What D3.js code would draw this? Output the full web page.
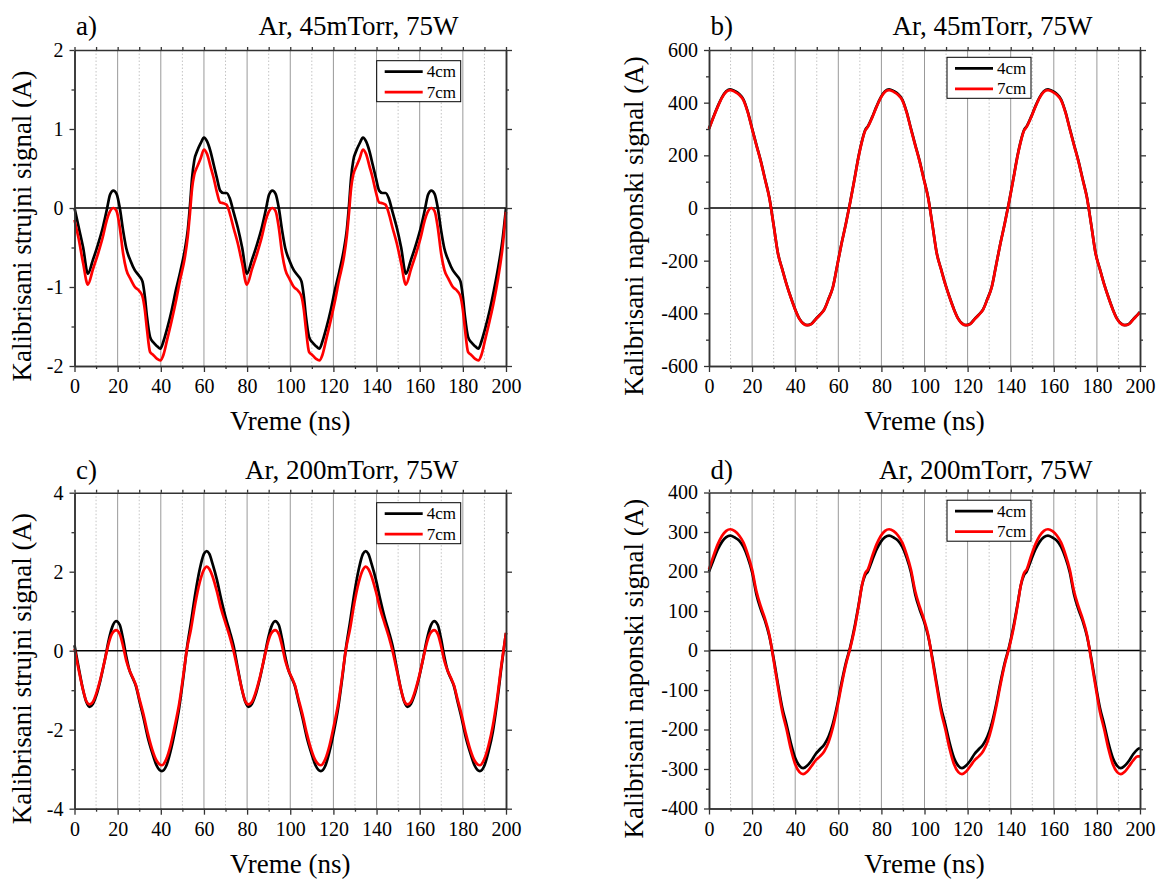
<!DOCTYPE html>
<html>
<head>
<meta charset="utf-8">
<script src="https://cdn.jsdelivr.net/npm/d3@7"></script>
<style>
  html, body { margin: 0; padding: 0; background: #fff; }
  svg { display: block; }
  text { font-family: "Liberation Serif", "Times New Roman", Tinos, serif; fill: #000; }
</style>
</head>
<body>
<svg id="chart" width="1157" height="879"></svg>
<script>
// ---------------- DATA ----------------
const xTicks = [0, 20, 40, 60, 80, 100, 120, 140, 160, 180, 200];
const xMinorTicks = [10, 30, 50, 70, 90, 110, 130, 150, 170, 190];
const seriesNames = ["4cm", "7cm"];

// Panel a) current, 45 mTorr
const timeA = [0, 2, 4, 6.2, 8.5, 11, 13, 15, 16.5, 18, 19.5, 21, 22.5, 24, 26, 28, 30, 31.5, 32.6, 33.6, 35, 36.5, 38.3, 39.8, 41.2, 43, 45, 47, 49, 51, 52.5, 53.5, 54.5, 55.5, 57, 58.5, 60, 61.5, 63, 64.5, 66, 67.5, 69, 70.5, 72,
  73.7, 75.7, 77.7, 79.9, 82.2, 84.7, 86.7, 88.7, 90.2, 91.7, 93.2, 94.7, 96.2, 97.7, 99.7, 101.7, 103.7, 105.2, 106.3, 107.3, 108.7, 110.2, 112, 113.5, 114.9, 116.7, 118.7, 120.7, 122.7, 124.7, 126.2, 127.2, 128.2, 129.2, 130.7, 132.2, 133.7, 135.2, 136.7, 138.2, 139.7, 141.2, 142.7, 144.2, 145.7,
  147.4, 149.4, 151.4, 153.6, 155.9, 158.4, 160.4, 162.4, 163.9, 165.4, 166.9, 168.4, 169.9, 171.4, 173.4, 175.4, 177.4, 178.9, 180, 181, 182.4, 183.9, 185.7, 187.2, 188.6, 190.4, 192.4, 194.4, 196.4, 198.4, 200];
const a4cm = [0, -0.25, -0.5, -0.83, -0.66, -0.45, -0.26, -0.02, 0.17, 0.22, 0.18, 0.0, -0.28, -0.51, -0.67, -0.79, -0.86, -0.93, -1.12, -1.38, -1.63, -1.70, -1.75, -1.78, -1.69, -1.52, -1.30, -1.04, -0.81, -0.55, -0.28, 0.02, 0.38, 0.6, 0.73, 0.82, 0.89, 0.84, 0.72, 0.55, 0.38, 0.22, 0.19, 0.19, 0.12,
  -0.05, -0.25, -0.5, -0.83, -0.66, -0.45, -0.26, -0.02, 0.17, 0.22, 0.18, 0.0, -0.28, -0.51, -0.67, -0.79, -0.86, -0.93, -1.12, -1.38, -1.63, -1.70, -1.75, -1.78, -1.69, -1.52, -1.30, -1.04, -0.81, -0.55, -0.28, 0.02, 0.38, 0.6, 0.73, 0.82, 0.89, 0.84, 0.72, 0.55, 0.38, 0.22, 0.19, 0.19, 0.12,
  -0.05, -0.25, -0.5, -0.83, -0.66, -0.45, -0.26, -0.02, 0.17, 0.22, 0.18, 0.0, -0.28, -0.51, -0.67, -0.79, -0.86, -0.93, -1.12, -1.38, -1.63, -1.70, -1.75, -1.78, -1.69, -1.52, -1.30, -1.04, -0.75, -0.4, 0.0];
const a7cm = [-0.15, -0.4, -0.7, -0.97, -0.78, -0.57, -0.38, -0.15, -0.04, 0.0, -0.04, -0.25, -0.57, -0.78, -0.9, -1.0, -1.05, -1.12, -1.29, -1.54, -1.82, -1.86, -1.91, -1.93, -1.86, -1.66, -1.43, -1.18, -0.9, -0.65, -0.36, -0.07, 0.25, 0.42, 0.53, 0.63, 0.74, 0.68, 0.53, 0.38, 0.2, 0.07, 0.06, 0.04, -0.07,
  -0.25, -0.45, -0.7, -0.97, -0.78, -0.57, -0.38, -0.15, -0.04, 0.0, -0.04, -0.25, -0.57, -0.78, -0.9, -1.0, -1.05, -1.12, -1.29, -1.54, -1.82, -1.86, -1.91, -1.93, -1.86, -1.66, -1.43, -1.18, -0.9, -0.65, -0.36, -0.07, 0.25, 0.42, 0.53, 0.63, 0.74, 0.68, 0.53, 0.38, 0.2, 0.07, 0.06, 0.04, -0.07,
  -0.25, -0.45, -0.7, -0.97, -0.78, -0.57, -0.38, -0.15, -0.04, 0.0, -0.04, -0.25, -0.57, -0.78, -0.9, -1.0, -1.05, -1.12, -1.29, -1.54, -1.82, -1.86, -1.91, -1.93, -1.86, -1.66, -1.43, -1.18, -0.88, -0.5, -0.05];
const aYTicks = [-2, -1, 0, 1, 2];
const aYMinor = [-1.5, -0.5, 0.5, 1.5];

// Panels b) and d) voltage share a time base
const timeBD = [0, 2, 4, 6, 8, 9.9, 12, 14, 16, 18, 20, 22, 24, 26, 28, 30, 32, 34, 36, 38, 40, 42, 43.7, 45.5, 47.5, 49.5, 51.5, 53.5, 55.5, 57.5, 59.5, 61.5, 63.5, 65.5, 67.5, 69.5, 71, 72.5,
  73.7, 75.7, 77.7, 79.7, 81.7, 83.6, 85.7, 87.7, 89.7, 91.7, 93.7, 95.7, 97.7, 99.7, 101.7, 103.7, 105.7, 107.7, 109.7, 111.7, 113.7, 115.7, 117.4, 119.2, 121.2, 123.2, 125.2, 127.2, 129.2, 131.2, 133.2, 135.2, 137.2, 139.2, 141.2, 143.2, 144.7, 146.2,
  147.4, 149.4, 151.4, 153.4, 155.4, 157.3, 159.4, 161.4, 163.4, 165.4, 167.4, 169.4, 171.4, 173.4, 175.4, 177.4, 179.4, 181.4, 183.4, 185.4, 187.4, 189.4, 191.1, 192.9, 194.9, 196.9, 198.9, 200];
const b4cm = [302, 345, 385, 420, 443, 451, 444, 433, 412, 365, 302, 240, 180, 110, 40, -65, -172, -232, -290, -340, -385, -421, -438, -445, -440, -422, -405, -385, -345, -300, -218, -135, -60, 22, 110, 200, 255, 296,
  310, 345, 385, 420, 443, 451, 444, 433, 412, 365, 302, 240, 180, 110, 40, -65, -172, -232, -290, -340, -385, -421, -438, -445, -440, -422, -405, -385, -345, -300, -218, -135, -60, 22, 110, 200, 255, 296,
  310, 345, 385, 420, 443, 451, 444, 433, 412, 365, 302, 240, 180, 110, 40, -65, -172, -232, -290, -340, -385, -421, -438, -445, -440, -422, -405, -395];
const b7cm = [300, 343, 383, 418, 441, 448, 441, 430, 409, 363, 300, 238, 178, 108, 38, -66, -173, -233, -291, -341, -386, -422, -439, -445, -441, -423, -406, -386, -346, -301, -219, -136, -61, 20, 108, 198, 253, 294,
  308, 343, 383, 418, 441, 448, 441, 430, 409, 363, 300, 238, 178, 108, 38, -66, -173, -233, -291, -341, -386, -422, -439, -445, -441, -423, -406, -386, -346, -301, -219, -136, -61, 20, 108, 198, 253, 294,
  308, 343, 383, 418, 441, 448, 441, 430, 409, 363, 300, 238, 178, 108, 38, -66, -173, -233, -291, -341, -386, -422, -439, -445, -441, -423, -406, -396];
const bYTicks = [-600, -400, -200, 0, 200, 400, 600];
const bYMinor = [-500, -300, -100, 100, 300, 500];

// Panel c) current, 200 mTorr
const timeC = [0, 2, 4, 5.5, 7, 8.5, 10, 12, 14, 16, 17.5, 19.3, 21, 22.5, 24, 25.5, 27, 28.5, 30, 32, 34, 36, 38, 40.5, 42.5, 44.5, 46.5, 48.5, 50.5, 52, 54, 56, 58, 60, 61.3, 62.5, 64, 66, 68, 70, 72,
  73.7, 75.7, 77.7, 79.2, 80.7, 82.2, 83.7, 85.7, 87.7, 89.7, 91.2, 93, 94.7, 96.2, 97.7, 99.2, 100.7, 102.2, 103.7, 105.7, 107.7, 109.7, 111.7, 114.2, 116.2, 118.2, 120.2, 122.2, 124.2, 125.7, 127.7, 129.7, 131.7, 133.7, 135, 136.2, 137.7, 139.7, 141.7, 143.7, 145.7,
  147.4, 149.4, 151.4, 152.9, 154.4, 155.9, 157.4, 159.4, 161.4, 163.4, 164.9, 166.7, 168.4, 169.9, 171.4, 172.9, 174.4, 175.9, 177.4, 179.4, 181.4, 183.4, 185.4, 187.9, 189.9, 191.9, 193.9, 195.9, 197.9, 200];
const c4cm = [0.14, -0.45, -1.0, -1.3, -1.42, -1.35, -1.15, -0.75, -0.25, 0.3, 0.6, 0.75, 0.65, 0.3, -0.15, -0.5, -0.7, -0.9, -1.25, -1.7, -2.2, -2.58, -2.9, -3.05, -2.92, -2.55, -2.05, -1.45, -0.65, 0.02, 0.72, 1.45, 2.05, 2.45, 2.52, 2.45, 2.2, 1.8, 1.3, 0.85, 0.48,
  0.13, -0.45, -1.0, -1.3, -1.42, -1.35, -1.15, -0.75, -0.25, 0.3, 0.6, 0.75, 0.65, 0.3, -0.15, -0.5, -0.7, -0.9, -1.25, -1.7, -2.2, -2.58, -2.9, -3.05, -2.92, -2.55, -2.05, -1.45, -0.65, 0.02, 0.72, 1.45, 2.05, 2.45, 2.52, 2.45, 2.2, 1.8, 1.3, 0.85, 0.48,
  0.13, -0.45, -1.0, -1.3, -1.42, -1.35, -1.15, -0.75, -0.25, 0.3, 0.6, 0.75, 0.65, 0.3, -0.15, -0.5, -0.7, -0.9, -1.25, -1.7, -2.2, -2.58, -2.9, -3.05, -2.92, -2.55, -2.05, -1.3, -0.4, 0.45];
const c7cm = [0.05, -0.5, -1.0, -1.28, -1.36, -1.3, -1.1, -0.72, -0.25, 0.22, 0.44, 0.52, 0.42, 0.12, -0.25, -0.5, -0.68, -0.88, -1.2, -1.62, -2.1, -2.5, -2.78, -2.9, -2.75, -2.4, -1.9, -1.35, -0.6, 0.0, 0.55, 1.2, 1.72, 2.05, 2.13, 2.07, 1.88, 1.5, 1.05, 0.7, 0.35,
  0.0, -0.5, -1.0, -1.28, -1.36, -1.3, -1.1, -0.72, -0.25, 0.22, 0.44, 0.52, 0.42, 0.12, -0.25, -0.5, -0.68, -0.88, -1.2, -1.62, -2.1, -2.5, -2.78, -2.9, -2.75, -2.4, -1.9, -1.35, -0.6, 0.0, 0.55, 1.2, 1.72, 2.05, 2.13, 2.07, 1.88, 1.5, 1.05, 0.7, 0.35,
  0.0, -0.5, -1.0, -1.28, -1.36, -1.3, -1.1, -0.72, -0.25, 0.22, 0.44, 0.52, 0.42, 0.12, -0.25, -0.5, -0.68, -0.88, -1.2, -1.62, -2.1, -2.5, -2.78, -2.9, -2.75, -2.4, -1.9, -1.2, -0.35, 0.45];
const cYTicks = [-4, -2, 0, 2, 4];
const cYMinor = [-3, -1, 1, 3];

// Panel d) voltage, 200 mTorr
const d4cm = [200, 228, 255, 275, 287, 291, 286, 278, 262, 235, 198, 142, 105, 75, 36, -20, -85, -145, -188, -235, -272, -292, -298, -292, -279, -262, -250, -238, -218, -185, -138, -82, -32, 8, 58, 118, 165, 191,
  200, 228, 255, 275, 287, 291, 286, 278, 262, 235, 198, 142, 105, 75, 36, -20, -85, -145, -188, -235, -272, -292, -298, -292, -279, -262, -250, -238, -218, -185, -138, -82, -32, 8, 58, 118, 165, 191,
  200, 228, 255, 275, 287, 291, 286, 278, 262, 235, 198, 142, 105, 75, 36, -20, -85, -145, -188, -235, -272, -292, -298, -292, -279, -262, -250, -247];
const d7cm = [205, 238, 268, 290, 303, 307, 302, 291, 273, 243, 205, 150, 112, 80, 40, -25, -92, -155, -200, -250, -288, -308, -313, -307, -293, -278, -268, -255, -232, -195, -145, -88, -36, 5, 53, 115, 165, 196,
  205, 238, 268, 290, 303, 307, 302, 291, 273, 243, 205, 150, 112, 80, 40, -25, -92, -155, -200, -250, -288, -308, -313, -307, -293, -278, -268, -255, -232, -195, -145, -88, -36, 5, 53, 115, 165, 196,
  205, 238, 268, 290, 303, 307, 302, 291, 273, 243, 205, 150, 112, 80, 40, -25, -92, -155, -200, -250, -288, -308, -313, -307, -293, -278, -268, -268];
const dYTicks = [-400, -300, -200, -100, 0, 100, 200, 300, 400];
const dYMinor = [-350, -250, -150, -50, 50, 150, 250, 350];

// ---------------- LAYOUT ----------------
const colors = ["#000000", "#ff0000"];
const FONT = '"Liberation Serif", "Times New Roman", Tinos, serif';

const panels = [
  { letter: "a)", title: "Ar, 45mTorr, 75W", ylabel: "Kalibrisani strujni signal (A)",
    t: timeA, s: [a4cm, a7cm], yDomain: [-2, 2], yTicks: aYTicks, yMinor: aYMinor,
    box: { l: 74.5, r: 506, t: 50, b: 366 }, legend: { x: 376.7, y: 60.7 }, ylabelX: 30.5, ylabelY: 226, titleY: 35 },
  { letter: "b)", title: "Ar, 45mTorr, 75W", ylabel: "Kalibrisani naponski signal (A)",
    t: timeBD, s: [b4cm, b7cm], yDomain: [-600, 600], yTicks: bYTicks, yMinor: bYMinor,
    box: { l: 709, r: 1140, t: 50, b: 366 }, legend: { x: 947, y: 57.3 }, ylabelX: 643, ylabelY: 226, titleY: 35 },
  { letter: "c)", title: "Ar, 200mTorr, 75W", ylabel: "Kalibrisani strujni signal (A)",
    t: timeC, s: [c4cm, c7cm], yDomain: [-4, 4], yTicks: cYTicks, yMinor: cYMinor,
    box: { l: 74.5, r: 506, t: 492.7, b: 808.7 }, legend: { x: 376.7, y: 502.7 }, ylabelX: 30.5, ylabelY: 668.6, titleY: 478.5 },
  { letter: "d)", title: "Ar, 200mTorr, 75W", ylabel: "Kalibrisani naponski signal (A)",
    t: timeBD, s: [d4cm, d7cm], yDomain: [-400, 400], yTicks: dYTicks, yMinor: dYMinor,
    box: { l: 709, r: 1140, t: 492.5, b: 808.5 }, legend: { x: 947, y: 500.2 }, ylabelX: 643, ylabelY: 668.6, titleY: 478.5 }
];

const svg = d3.select("#chart");

panels.forEach(p => {
  const B = p.box;
  const x = d3.scaleLinear().domain([0, 200]).range([B.l, B.r]);
  const y = d3.scaleLinear().domain(p.yDomain).range([B.b, B.t]);
  const g = svg.append("g");

  // vertical grid: minor dotted, major solid
  g.selectAll(".gminor").data(xMinorTicks).join("line")
    .attr("x1", d => x(d)).attr("x2", d => x(d)).attr("y1", B.t).attr("y2", B.b)
    .attr("stroke", "#c4c4c4").attr("stroke-width", 1).attr("stroke-dasharray", "1.5,2");
  g.selectAll(".gmajor").data(xTicks.slice(1, -1)).join("line")
    .attr("x1", d => x(d)).attr("x2", d => x(d)).attr("y1", B.t).attr("y2", B.b)
    .attr("stroke", "#999").attr("stroke-width", 1);

  // zero line
  g.append("line").attr("x1", B.l).attr("x2", B.r).attr("y1", y(0)).attr("y2", y(0))
    .attr("stroke", "#000").attr("stroke-width", 1.6);

  // curves (7cm drawn last, on top)
  const line = d3.line().x(d => x(d[0])).y(d => y(d[1])).curve(d3.curveMonotoneX);
  p.s.forEach((vals, i) => {
    const pts = p.t.map((t, k) => [t, vals[k]]);
    g.append("path").datum(pts).attr("d", line)
      .attr("fill", "none").attr("stroke", colors[i]).attr("stroke-width", 2.7)
      .attr("stroke-linejoin", "round");
  });

  // axes
  const styleAxis = sel => {
    sel.attr("font-family", null);
    sel.selectAll("path.domain").attr("stroke", "#333").attr("stroke-width", 1.5);
    sel.selectAll(".tick line").attr("stroke", "#333").attr("stroke-width", 1.3);
    sel.selectAll("text").style("font-family", FONT).style("font-size", "20px").attr("fill", "#000");
  };
  const fmt = d => String(d);

  g.append("g").attr("transform", `translate(0,${B.b})`)
    .call(d3.axisBottom(x).tickValues(xTicks).tickFormat(fmt).tickSize(6).tickSizeOuter(0).tickPadding(7))
    .call(styleAxis);
  g.append("g").attr("transform", `translate(0,${B.b})`)
    .call(d3.axisBottom(x).tickValues(xMinorTicks).tickFormat("").tickSize(3).tickSizeOuter(0))
    .call(styleAxis);
  g.append("g").attr("transform", `translate(0,${B.t})`)
    .call(d3.axisTop(x).tickValues(xTicks.concat(xMinorTicks)).tickFormat("").tickSize(3).tickSizeOuter(0))
    .call(styleAxis);
  g.append("g").attr("transform", `translate(${B.l},0)`)
    .call(d3.axisLeft(y).tickValues(p.yTicks).tickFormat(fmt).tickSize(5).tickSizeOuter(0).tickPadding(6))
    .call(styleAxis);
  g.append("g").attr("transform", `translate(${B.l},0)`)
    .call(d3.axisLeft(y).tickValues(p.yMinor).tickFormat("").tickSize(3).tickSizeOuter(0))
    .call(styleAxis);
  g.append("g").attr("transform", `translate(${B.r},0)`)
    .call(d3.axisRight(y).tickValues(p.yTicks).tickFormat("").tickSize(6).tickSizeOuter(0))
    .call(styleAxis);
  g.append("g").attr("transform", `translate(${B.r},0)`)
    .call(d3.axisRight(y).tickValues(p.yMinor).tickFormat("").tickSize(3).tickSizeOuter(0))
    .call(styleAxis);

  // axis titles
  g.append("text").attr("x", (B.l + B.r) / 2).attr("y", B.b + 64)
    .attr("text-anchor", "middle").style("font-family", FONT).style("font-size", "27px").text("Vreme (ns)");
  g.append("text").attr("transform", `translate(${p.ylabelX},${p.ylabelY}) rotate(-90)`)
    .attr("text-anchor", "middle").style("font-family", FONT).style("font-size", "27px").text(p.ylabel);

  // panel letter and title
  g.append("text").attr("x", B.l + 1.5).attr("y", p.titleY).style("font-family", FONT)
    .style("font-size", "27px").text(p.letter);
  g.append("text").attr("x", B.r - 47.5).attr("y", p.titleY).attr("text-anchor", "end")
    .style("font-family", FONT).style("font-size", "27px").text(p.title);

  // legend
  const L = p.legend;
  const lg = g.append("g").attr("transform", `translate(${L.x},${L.y})`);
  lg.append("rect").attr("width", 84).attr("height", 41)
    .attr("fill", "#fff").attr("stroke", "#000").attr("stroke-width", 1);
  seriesNames.forEach((name, i) => {
    const yy = 11 + i * 20.5;
    lg.append("line").attr("x1", 8).attr("x2", 46).attr("y1", yy).attr("y2", yy)
      .attr("stroke", colors[i]).attr("stroke-width", 2.7);
    lg.append("text").attr("x", 50).attr("y", yy).attr("dy", "0.33em")
      .style("font-family", FONT).style("font-size", "17px").text(name);
  });
});
</script>
</body>
</html>
